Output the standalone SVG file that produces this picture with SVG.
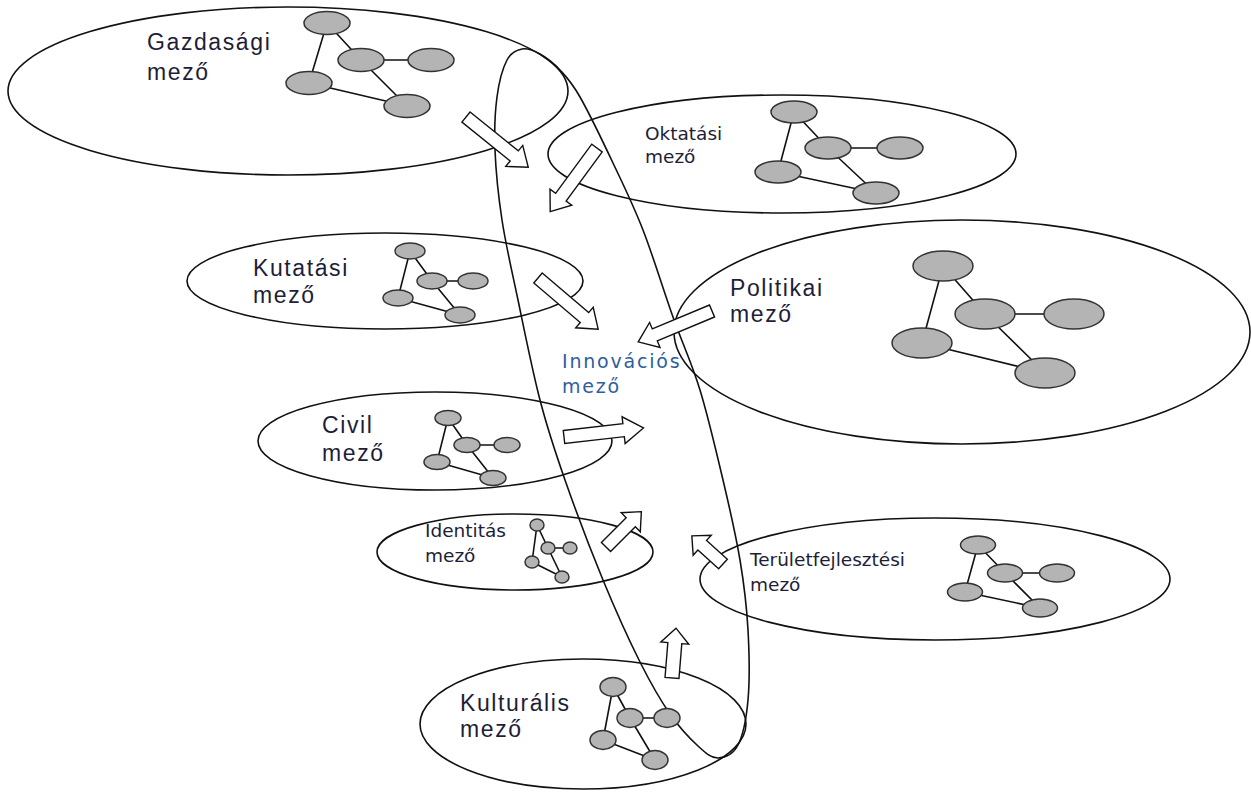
<svg xmlns="http://www.w3.org/2000/svg" width="1251" height="792" viewBox="0 0 1251 792">
  <style>
    .field { fill: none; stroke: #111; stroke-width: 1.6; }
    .node { fill: #b4b4b4; stroke: #333; stroke-width: 1.5; }
    .link { stroke: #111; stroke-width: 1.6; fill: none; }
    .arr { fill: #fff; stroke: #111; stroke-width: 1.4; stroke-linejoin: miter; }
    .big { font-family: "Liberation Sans", Arial, sans-serif; font-size: 23px; letter-spacing: 1.6px; fill: #1e1e38; }
    .small { font-family: "DejaVu Sans", Verdana, sans-serif; font-size: 18.5px; fill: #1e1e38; }
    .inno { font-family: "DejaVu Sans", Verdana, sans-serif; font-size: 19px; letter-spacing: 1.8px; fill: #2f5e9e; }
  </style>
  <rect width="1251" height="792" fill="#fff"/>

  <!-- field outlines -->
  <g id="field-outlines">
    <ellipse id="gazdasagi-outline" class="field" cx="288" cy="91" rx="280" ry="84"/>
    <ellipse id="oktatasi-outline" class="field" cx="782" cy="154" rx="234" ry="59"/>
    <ellipse id="kutatasi-outline" class="field" cx="385" cy="281" rx="198" ry="48"/>
    <ellipse id="politikai-outline" class="field" cx="962" cy="332" rx="288" ry="112"/>
    <ellipse id="civil-outline" class="field" cx="435" cy="441" rx="177" ry="49"/>
    <ellipse id="identitas-outline" class="field" cx="515" cy="552" rx="138" ry="38"/>
    <ellipse id="teruletfejlesztesi-outline" class="field" cx="935" cy="579" rx="235" ry="61"/>
    <ellipse id="kulturalis-outline" class="field" cx="583" cy="724" rx="163" ry="65"/>
    <!-- innovation field: tilted loop crossing all the others -->
    <path id="innovacios-outline" class="field" d="M507,60 C511.2,52 516.5,50 522,49 C527.5,48 533.7,50.5 540,54 C546.3,57.5 553.3,62.8 560,70 C566.7,77.2 571.2,81.5 580,97 C588.8,112.5 602.5,140.8 613,163 C623.5,185.2 633,204.3 643,230 C653,255.7 663.5,290.3 673,317 C682.5,343.7 691.7,362.8 700,390 C708.3,417.2 716.3,451.7 723,480 C729.7,508.3 735.8,535 740,560 C744.2,585 746.7,606.7 748,630 C749.3,653.3 749.7,680.8 748,700 C746.3,719.2 743,735.3 738,745 C733,754.7 724.7,757.8 718,758 C711.3,758.2 706,753.3 698,746 C690,738.7 679.7,728 670,714 C660.3,700 651.2,684.3 640,662 C628.8,639.7 615.5,610.3 603,580 C590.5,549.7 575.5,510 565,480 C554.5,450 547.8,430 540,400 C532.2,370 524.3,330 518,300 C511.7,270 505.8,245 502,220 C498.2,195 495.8,170.5 495,150 C494.2,129.5 495,112 497,97 C499,82 502.8,68 507,60 Z"/>
  </g>

  <!-- small actor networks inside each field -->
  <g id="gazdasagi">
    <path class="link" d="M327,23 L361,60 M327,23 L309,83 M361,60 L431,60 M361,60 L407,106 M309,83 L407,106"/>
    <ellipse class="node" cx="327" cy="23" rx="23" ry="11.5"/>
    <ellipse class="node" cx="361" cy="60" rx="23" ry="11.5"/>
    <ellipse class="node" cx="431" cy="60" rx="23" ry="11.5"/>
    <ellipse class="node" cx="309" cy="83" rx="23" ry="11.5"/>
    <ellipse class="node" cx="407" cy="106" rx="23" ry="11.5"/>
    <text class="big" x="147" y="50">Gazdasági</text>
    <text class="big" x="147" y="80">mező</text>
  </g>

  <g id="oktatasi">
    <path class="link" d="M794,112 L828,148 M794,112 L778,172 M828,148 L900,148 M828,148 L876,193 M778,172 L876,193"/>
    <ellipse class="node" cx="794" cy="112" rx="23" ry="11"/>
    <ellipse class="node" cx="828" cy="148" rx="23" ry="11"/>
    <ellipse class="node" cx="900" cy="148" rx="23" ry="11"/>
    <ellipse class="node" cx="778" cy="172" rx="23" ry="11"/>
    <ellipse class="node" cx="876" cy="193" rx="23" ry="11"/>
    <text class="small" x="645" y="140">Oktatási</text>
    <text class="small" x="645" y="163">mező</text>
  </g>

  <g id="kutatasi">
    <path class="link" d="M410,251 L432,281 M410,251 L398,298 M432,281 L473,281 M432,281 L460,315 M398,298 L460,315"/>
    <ellipse class="node" cx="410" cy="251" rx="15" ry="8"/>
    <ellipse class="node" cx="432" cy="281" rx="15" ry="8"/>
    <ellipse class="node" cx="473" cy="281" rx="15" ry="8"/>
    <ellipse class="node" cx="398" cy="298" rx="15" ry="8"/>
    <ellipse class="node" cx="460" cy="315" rx="15" ry="8"/>
    <text class="big" x="253" y="276">Kutatási</text>
    <text class="big" x="253" y="303">mező</text>
  </g>

  <g id="politikai">
    <path class="link" d="M943,266 L985,314 M943,266 L922,343 M985,314 L1074,314 M985,314 L1045,373 M922,343 L1045,373"/>
    <ellipse class="node" cx="943" cy="266" rx="30" ry="15"/>
    <ellipse class="node" cx="985" cy="314" rx="30" ry="15"/>
    <ellipse class="node" cx="1074" cy="314" rx="30" ry="15"/>
    <ellipse class="node" cx="922" cy="343" rx="30" ry="15"/>
    <ellipse class="node" cx="1045" cy="373" rx="30" ry="15"/>
    <text class="big" x="730" y="296">Politikai</text>
    <text class="big" x="730" y="322">mező</text>
  </g>

  <g id="civil">
    <path class="link" d="M448,418 L467,445 M448,418 L437,462 M467,445 L507,445 M467,445 L493,478 M437,462 L493,478"/>
    <ellipse class="node" cx="448" cy="418" rx="13" ry="7.5"/>
    <ellipse class="node" cx="467" cy="445" rx="13" ry="7.5"/>
    <ellipse class="node" cx="507" cy="445" rx="13" ry="7.5"/>
    <ellipse class="node" cx="437" cy="462" rx="13" ry="7.5"/>
    <ellipse class="node" cx="493" cy="478" rx="13" ry="7.5"/>
    <text class="big" x="322" y="433">Civil</text>
    <text class="big" x="322" y="461">mező</text>
  </g>

  <g id="identitas">
    <path class="link" d="M537,525 L548,548 M537,525 L532,562 M548,548 L570,548 M548,548 L562,577 M532,562 L562,577"/>
    <ellipse class="node" cx="537" cy="525" rx="7" ry="6"/>
    <ellipse class="node" cx="548" cy="548" rx="7" ry="6"/>
    <ellipse class="node" cx="570" cy="548" rx="7" ry="6"/>
    <ellipse class="node" cx="532" cy="562" rx="7" ry="6"/>
    <ellipse class="node" cx="562" cy="577" rx="7" ry="6"/>
    <text class="small" x="425" y="537">Identitás</text>
    <text class="small" x="425" y="562">mező</text>
  </g>

  <g id="teruletfejlesztesi">
    <path class="link" d="M978,545 L1005,573 M978,545 L965,592 M1005,573 L1057,573 M1005,573 L1040,608 M965,592 L1040,608"/>
    <ellipse class="node" cx="978" cy="545" rx="17.5" ry="9"/>
    <ellipse class="node" cx="1005" cy="573" rx="17.5" ry="9"/>
    <ellipse class="node" cx="1057" cy="573" rx="17.5" ry="9"/>
    <ellipse class="node" cx="965" cy="592" rx="17.5" ry="9"/>
    <ellipse class="node" cx="1040" cy="608" rx="17.5" ry="9"/>
    <text class="small" x="750" y="566">Területfejlesztési</text>
    <text class="small" x="750" y="591">mező</text>
  </g>

  <g id="kulturalis">
    <path class="link" d="M613,687 L630,718 M613,687 L603,740 M630,718 L667,718 M630,718 L655,760 M603,740 L655,760"/>
    <ellipse class="node" cx="613" cy="687" rx="13" ry="9.5"/>
    <ellipse class="node" cx="630" cy="718" rx="13" ry="9.5"/>
    <ellipse class="node" cx="667" cy="718" rx="13" ry="9.5"/>
    <ellipse class="node" cx="603" cy="740" rx="13" ry="9.5"/>
    <ellipse class="node" cx="655" cy="760" rx="13" ry="9.5"/>
    <text class="big" x="460" y="711">Kulturális</text>
    <text class="big" x="460" y="737">mező</text>
  </g>

  <g id="innovacios">
    <text class="inno" x="562" y="368">Innovációs</text>
    <text class="inno" x="562" y="393">mező</text>
  </g>

  <!-- block arrows pointing into the innovation field -->
  <g id="connectors">
    <polygon class="arr" transform="translate(466,117) rotate(38.9)" points="0,-6.5 62,-6.5 62,-13.5 80,0 62,13.5 62,6.5 0,6.5"/>
    <polygon class="arr" transform="translate(597,148) rotate(126.3)" points="0,-6.5 61,-6.5 61,-13.5 79,0 61,13.5 61,6.5 0,6.5"/>
    <polygon class="arr" transform="translate(538,278) rotate(40.4)" points="0,-6.5 61,-6.5 61,-13.5 79,0 61,13.5 61,6.5 0,6.5"/>
    <polygon class="arr" transform="translate(712,311) rotate(157.3)" points="0,-6.5 62,-6.5 62,-13.5 80,0 62,13.5 62,6.5 0,6.5"/>
    <polygon class="arr" transform="translate(564,437) rotate(-6.5)" points="0,-6.5 60,-6.5 60,-13.5 80,0 60,13.5 60,6.5 0,6.5"/>
    <polygon class="arr" transform="translate(606,547) rotate(-45)" points="0,-6.5 35,-6.5 35,-13.5 50,0 35,13.5 35,6.5 0,6.5"/>
    <polygon class="arr" transform="translate(723,564) rotate(-137.9)" points="0,-6.5 28,-6.5 28,-13.5 42,0 28,13.5 28,6.5 0,6.5"/>
    <polygon class="arr" transform="translate(672,678) rotate(-85.4)" points="0,-7 35,-7 35,-14 50,0 35,14 35,7 0,7"/>
  </g>
</svg>
